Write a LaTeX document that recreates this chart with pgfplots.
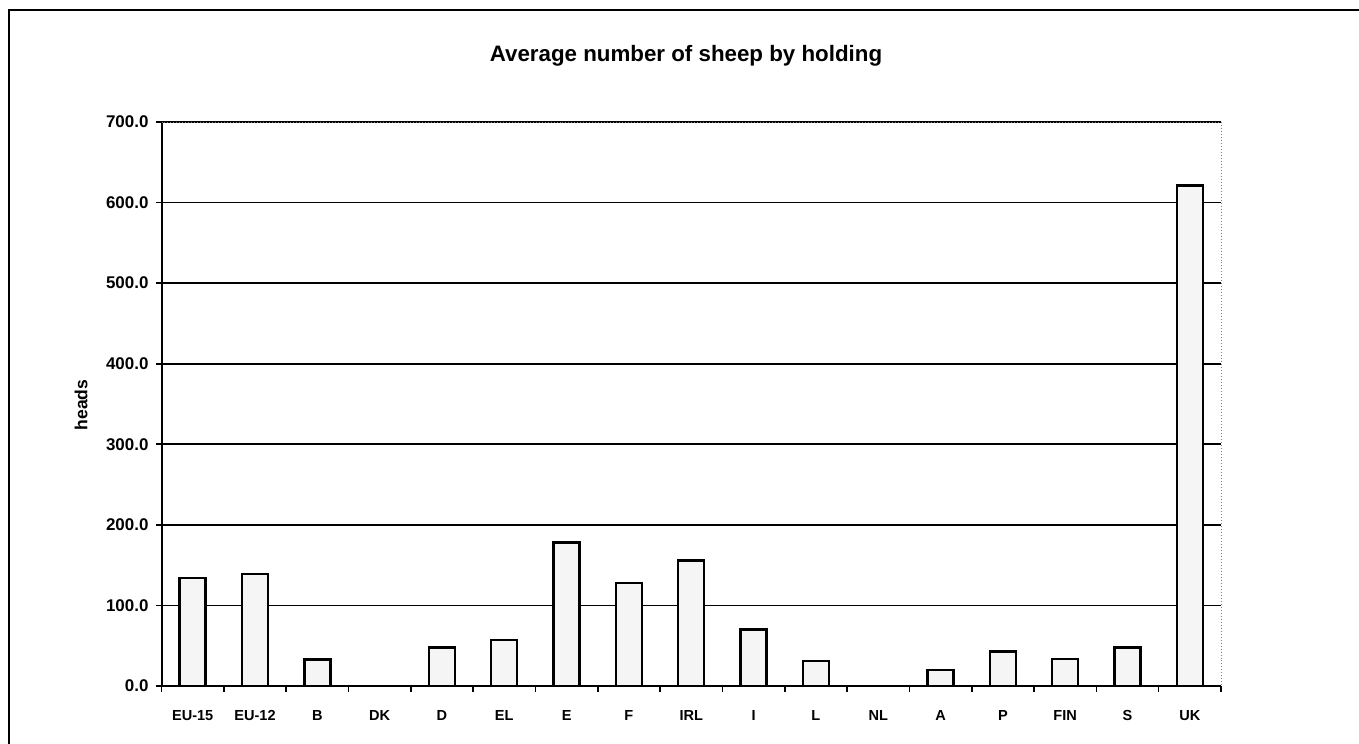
\documentclass[border=0pt]{standalone}
\usepackage{pgfplots}
\pgfplotsset{compat=1.18}
\usepackage{fontspec}
\setmainfont{Liberation Sans}
\begin{document}
\begin{tikzpicture}
\useasboundingbox (0,0) rectangle (679.5bp,372bp);
\draw[line width=1bp] (4.5bp,0) -- (4.5bp,367bp) -- (679.5bp,367bp);
\begin{axis}[
  at={(80.75bp,29bp)}, anchor=south west,
  scale only axis, width=529.75bp, height=282bp,
  xmin=-0.5, xmax=16.5, ymin=0, ymax=700,
  ytick={0,100,...,700},
  xtick={0,...,16},
  xticklabels={EU-15,EU-12,B,DK,D,EL,E,F,IRL,I,L,NL,A,P,FIN,S,UK},
  minor xtick={-0.5,0.5,...,16.5},
  major x tick style={draw=none},
  minor tick length=3bp, major tick length=3bp,
  tick align=outside,
  axis x line*=bottom, axis y line*=left,
  axis line style={line width=1bp, -},
  tick style={line width=0.8bp, black},
  ymajorgrids, grid style={line width=0.8bp, black},
  /pgf/number format/fixed, /pgf/number format/fixed zerofill, /pgf/number format/precision=1, /pgf/number format/assume math mode=true,
  yticklabel style={font=\fontsize{8.5}{10}\selectfont\bfseries},
  xticklabel style={font=\fontsize{7.3}{8}\selectfont\bfseries, anchor=base, yshift=-14.5bp},
  ybar, bar width=13bp,
  after end axis/.code={\draw[densely dotted, line width=0.5bp, gray] (rel axis cs:0,1) -- (rel axis cs:1,1) -- (rel axis cs:1,0);},
]
\addplot[draw=black, line width=1.2bp, fill=black!4] coordinates {
(0,134) (1,139) (2,33) (3,0) (4,48) (5,57) (6,178) (7,128) (8,156) (9,70) (10,31) (11,0) (12,20) (13,43) (14,33.5) (15,48) (16,621)
};
\end{axis}
\node[font=\fontsize{11.2}{13}\selectfont\bfseries, anchor=base] at (343bp,341bp) {Average number of sheep by holding};
\node[font=\fontsize{8.8}{10}\selectfont\bfseries, rotate=90] at (40.5bp,169.5bp) {heads};
\end{tikzpicture}
\end{document}
